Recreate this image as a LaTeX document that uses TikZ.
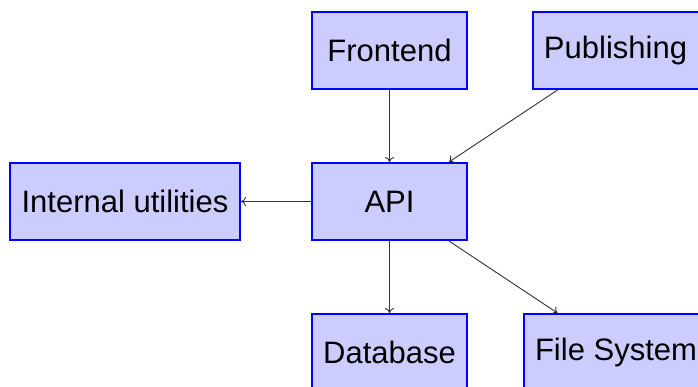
\documentclass[tikz,border=0pt]{standalone}
\usepackage{fontspec}
\setmainfont{Liberation Sans}
\usetikzlibrary{arrows.meta}
\definecolor{boxfill}{RGB}{204,204,255}
\definecolor{boxline}{RGB}{0,0,255}
\tikzset{
  blk/.style={draw=boxline, fill=boxfill, line width=2pt, minimum height=77pt, inner sep=0pt, font=\fontsize{31}{34}\selectfont, text=black},
  conn/.style={draw=black!80, line width=0.9pt, -{To[length=5pt,width=9pt]}}
}
\begin{document}
\begin{tikzpicture}[x=1pt,y=-1pt]
\useasboundingbox (0,0) rectangle (698,387);
\begin{scope}
\clip (0,0) rectangle (698,387);
\node[blk, minimum width=155pt] (fe) at (389.5,50.5) {Frontend};
\node[blk, minimum width=168pt] (pub) at (617,50.5) {\hspace*{-3pt}Publishing};
\node[blk, minimum width=155pt] (api) at (389.5,201.5) {API};
\node[blk, minimum width=230pt] (iu) at (125,201.5) {Internal utilities};
\node[blk, minimum width=155pt] (db) at (389.5,352.5) {Database};
\node[blk, minimum width=186pt] (fs) at (617,352.5) {\hspace*{-2pt}File System};
\draw[conn] (fe) -- (api);
\draw[conn] (pub) -- (api);
\draw[conn] (api) -- (iu);
\draw[conn] (api) -- (db);
\draw[conn] (api) -- (fs);
\end{scope}
\end{tikzpicture}
\end{document}
